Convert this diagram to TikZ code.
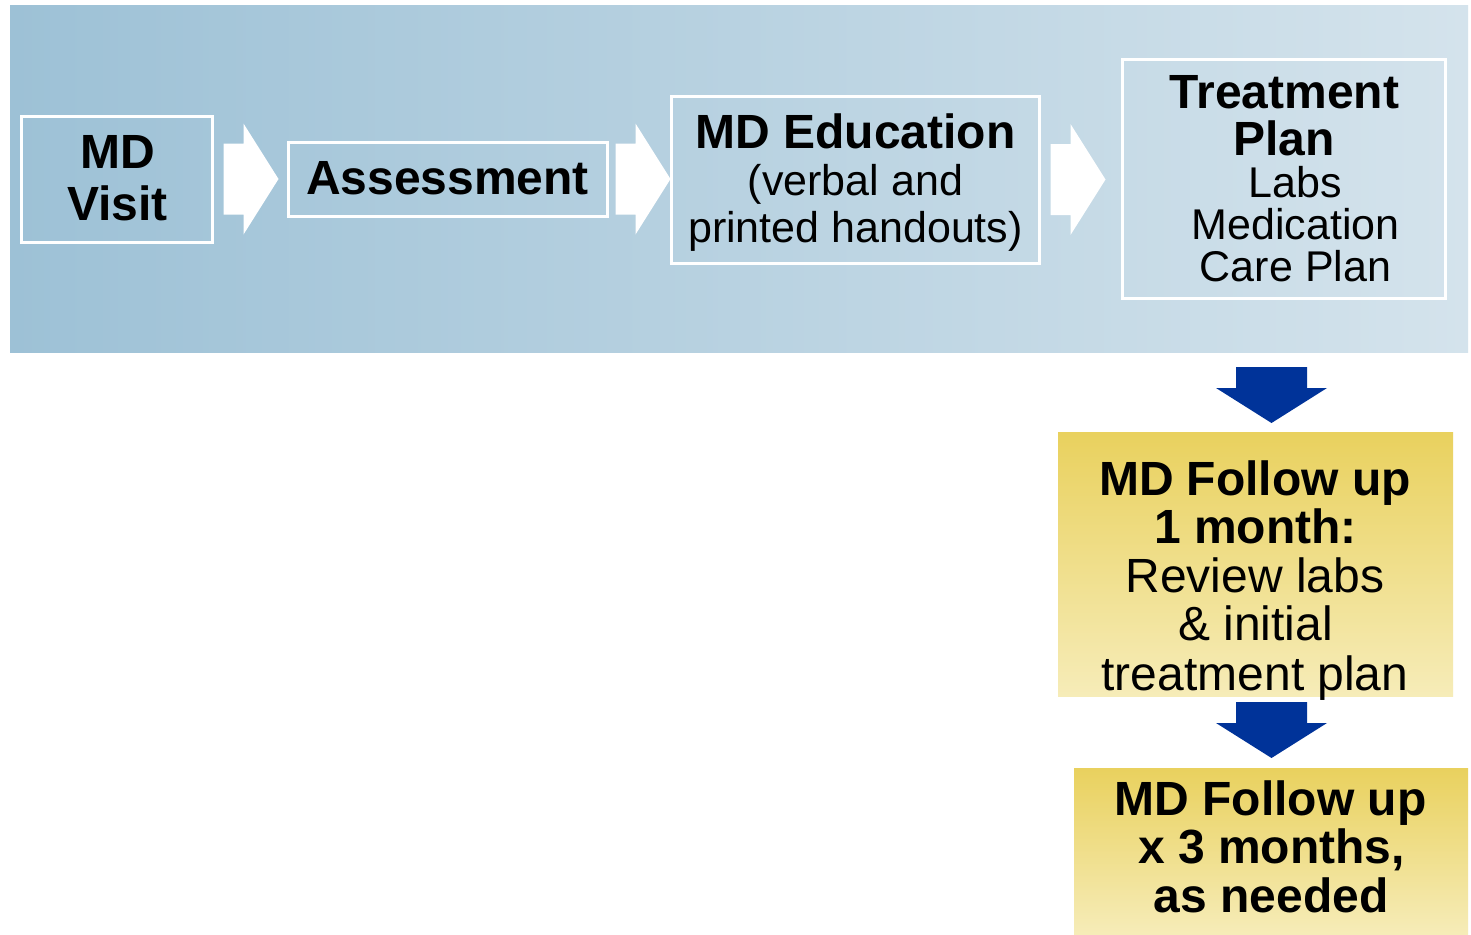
\documentclass[tikz,border=0pt]{standalone}
\usepackage{fontspec}
\setmainfont{Liberation Sans}
\usetikzlibrary{calc}
\definecolor{bandL}{RGB}{157,193,214}
\definecolor{bandR}{RGB}{212,227,236}
\definecolor{yelT}{RGB}{233,209,94}
\definecolor{yelB}{RGB}{246,236,184}
\definecolor{arrblue}{RGB}{0,51,153}
\tikzset{
  wbox/.style={draw=white,line width=3pt,rectangle,inner sep=0pt},
  ybox/.style={rectangle,inner sep=0pt,top color=yelT,bottom color=yelB,draw=none},
  bt/.style={inner sep=0pt,anchor=base,font=\fontsize{48}{53}\selectfont\bfseries},
  rt/.style={inner sep=0pt,anchor=base,font=\fontsize{43}{48}\selectfont},
  ryt/.style={inner sep=0pt,anchor=base,font=\fontsize{48}{53}\selectfont},
  warrow/.style={fill=white,draw=none},
  barrow/.style={fill=arrblue,draw=none}
}
\begin{document}
\begin{tikzpicture}[x=1pt,y=-1pt]
\useasboundingbox (0,0) rectangle (1471,934);
\fill[white] (0,0) rectangle (1471,934);
% band
\shade[left color=bandL,right color=bandR] (10,6) rectangle (1468,352);
% boxes
\node[wbox,minimum width=191pt,minimum height=126pt] (visit) at (116.5,179) {};
\node[wbox,minimum width=319pt,minimum height=74pt] (assess) at (447.5,179) {};
\node[wbox,minimum width=368pt,minimum height=167pt] (educ) at (855,179.5) {};
\node[wbox,minimum width=323pt,minimum height=238pt] (treat) at (1283.5,179) {};
\node[ybox,minimum width=395pt,minimum height=264pt] (fu1) at (1255.5,564) {};
\node[ybox,minimum width=394pt,minimum height=166pt] (fu3) at (1271,851) {};
% texts
\node[bt] at (117.5,168) {MD};
\node[bt] at (117.5,220) {Visit};
\node[bt] at (447.5,194) {Assessment};
\node[bt] at (855.5,148) {MD Education};
\node[rt] at (855.5,195) {(verbal and};
\node[rt] at (855.5,242) {printed handouts)};
\node[bt] at (1284.5,108) {Treatment};
\node[bt] at (1284,155) {Plan};
\node[rt] at (1295,197) {Labs};
\node[rt] at (1295.5,239) {Medication};
\node[rt] at (1295.5,281) {Care Plan};
\node[bt] at (1255,495) {MD Follow up};
\node[bt] at (1255.5,543) {1 month:};
\node[ryt] at (1255,592) {Review labs};
\node[ryt] at (1255.5,640) {\& initial};
\node[ryt] at (1255,690) {treatment plan};
\node[bt] at (1270.5,815) {MD Follow up};
\node[bt] at (1271.5,863) {x 3 months,};
\node[bt] at (1271,912) {as needed};
% white block arrows
\coordinate (a1) at ($(visit.east)+(10,0)$);
\coordinate (a2) at ($(assess.east)+(7,0)$);
\coordinate (a3) at ($(educ.east)+(10,0)$);
\foreach \s in {a1,a2,a3}{
  \fill[warrow] (\s) ++(0,-35.5) -- ++(20,0) -- ++(0,-20) -- ++(35,55.5) -- ++(-35,55.5) -- ++(0,-20) -- ++(-20,0) -- cycle;
}
% blue down arrows
\coordinate (d1) at (1271.5,367);
\coordinate (d2) at (1271.5,702);
\foreach \s in {d1,d2}{
  \fill[barrow] (\s) ++(-35.5,0) -- ++(71,0) -- ++(0,21) -- ++(20,0) -- ++(-55.5,35) -- ++(-55.5,-35) -- ++(20,0) -- cycle;
}
\end{tikzpicture}
\end{document}
